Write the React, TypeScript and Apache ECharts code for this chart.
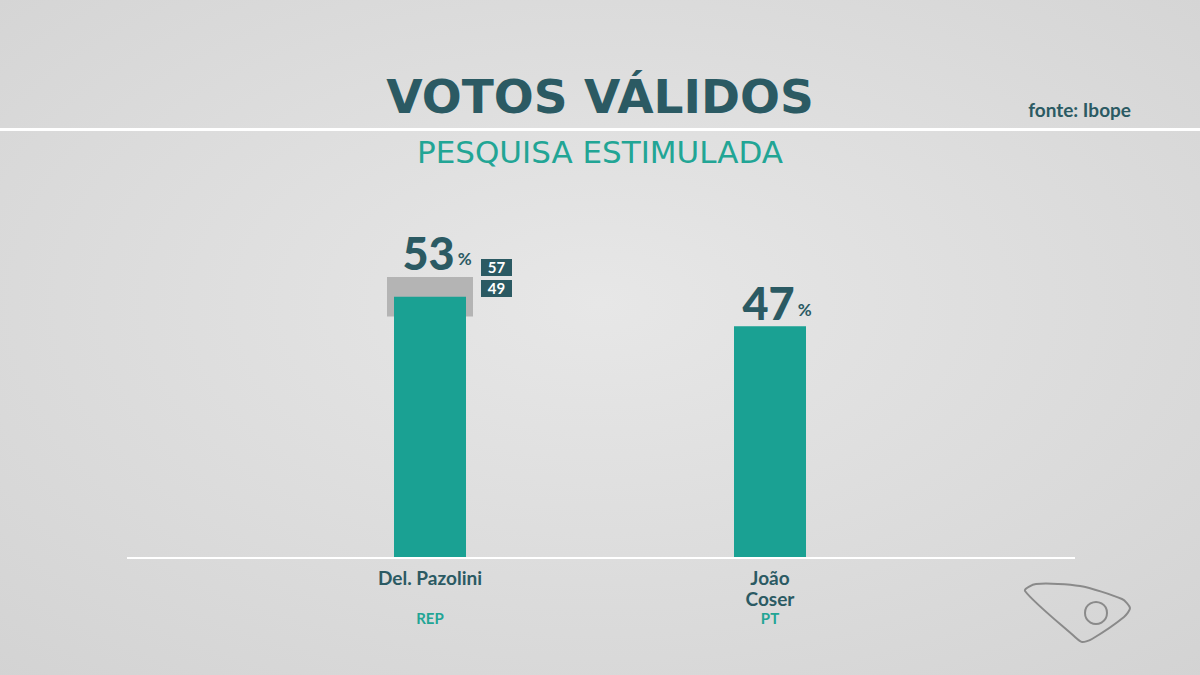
import React, { useEffect, useRef } from "react";
import * as echarts from "echarts";

const candidates = ["Del. Pazolini", "João\nCoser"];
const parties = ["REP", "PT"];
const votes = [53, 47];
const marginLow = [49];
const marginHigh = [57];

const DARK = "#2b5a63";
const TEAL = "#1aa193";
const TEAL_TXT = "#22a595";

export default function App() {
  const ref = useRef<HTMLDivElement>(null);
  useEffect(() => {
    document.body.style.margin = "0";
    const chart = echarts.init(ref.current!, null, { renderer: "svg" });
    const bandData = marginLow.map((lo, i) => [i, lo, marginHigh[i]]);
    chart.setOption({
      animation: false,
      backgroundColor: {
        type: "radial",
        x: 0.5,
        y: 0.45,
        r: 0.75,
        colorStops: [
          { offset: 0, color: "#e7e7e7" },
          { offset: 1, color: "#d3d3d3" },
        ],
      },
      title: [
        {
          text: "VOTOS VÁLIDOS",
          left: "center",
          top: 68,
          textStyle: { fontFamily: "DejaVu Sans", fontWeight: 700, fontSize: 47, color: DARK },
        },
        {
          text: "PESQUISA ESTIMULADA",
          left: "center",
          top: 131,
          textStyle: { fontFamily: "DejaVu Sans", fontWeight: 400, fontSize: 31, color: TEAL_TXT },
        },
        {
          text: "fonte: Ibope",
          right: 64,
          top: 95,
          textStyle: { fontFamily: "Lato", fontWeight: 700, fontSize: 19, color: DARK },
        },
      ],
      graphic: [
        { type: "rect", shape: { x: 0, y: 128, width: 1200, height: 3 }, style: { fill: "#ffffff" }, z: 0 },
        { type: "line", shape: { x1: 127, y1: 558, x2: 1075, y2: 558 }, style: { stroke: "#ffffff", lineWidth: 2 }, z: 10 },
        {
          type: "polygon",
          shape: {
            points: [
              [1025, 591], [1036, 584], [1080, 586], [1122, 599], [1130, 608], [1124, 617],
              [1092, 639], [1082, 642], [1075, 637],
            ],
            smooth: 0.25,
          },
          style: { fill: "none", stroke: "#8a8a8a", lineWidth: 2 },
        },
        {
          type: "circle",
          shape: { cx: 1096, cy: 613, r: 11 },
          style: { fill: "none", stroke: "#8a8a8a", lineWidth: 2 },
        },
      ],
      grid: { left: 260, right: 260, top: 65, bottom: 117 },
      xAxis: {
        type: "category",
        data: candidates,
        axisLine: { show: false },
        axisTick: { show: false },
        axisLabel: {
          margin: 9,
          interval: 0,
          formatter: (value: string, idx: number) => {
            const lines = value.split("\n");
            while (lines.length < 2) lines.push(" ");
            return lines.map((l) => `{n|${l}}`).join("\n") + `\n{p|${parties[idx]}}`;
          },
          rich: {
            n: { fontFamily: "Lato", fontWeight: 700, fontSize: 19, color: DARK, lineHeight: 21 },
            p: { fontFamily: "Lato", fontWeight: 700, fontSize: 15, color: TEAL_TXT, lineHeight: 17 },
          },
        },
      },
      yAxis: { type: "value", min: 0, max: 100, show: false, splitLine: { show: false } },
      series: [
        {
          type: "custom",
          z: 1,
          data: bandData,
          encode: { x: 0, y: [1, 2] },
          renderItem: (params: any, api: any) => {
            const lo = api.value(1);
            const hi = api.value(2);
            const pLo = api.coord([api.value(0), lo]);
            const pHi = api.coord([api.value(0), hi]);
            const cx = pLo[0];
            const bx = cx + 51;
            return {
              type: "group",
              children: [
                {
                  type: "rect",
                  shape: { x: cx - 43, y: pHi[1], width: 86, height: pLo[1] - pHi[1] },
                  style: { fill: "#b4b4b4" },
                },
                { type: "rect", shape: { x: bx, y: pHi[1] - 18, width: 31, height: 17 }, style: { fill: DARK } },
                {
                  type: "text",
                  style: {
                    text: String(hi), x: bx + 15.5, y: pHi[1] - 9.5, align: "center", verticalAlign: "middle",
                    fill: "#ffffff", font: "700 15px Lato",
                  },
                },
                { type: "rect", shape: { x: bx, y: pHi[1] + 3, width: 31, height: 17 }, style: { fill: DARK } },
                {
                  type: "text",
                  style: {
                    text: String(lo), x: bx + 15.5, y: pHi[1] + 11.5, align: "center", verticalAlign: "middle",
                    fill: "#ffffff", font: "700 15px Lato",
                  },
                },
              ],
            };
          },
        },
        {
          type: "bar",
          z: 2,
          barWidth: 72,
          data: votes.map((v, i) => ({
            value: v,
            label: { distance: i < marginHigh.length ? 24 : 3 },
          })),
          itemStyle: { color: TEAL },
          label: {
            show: true,
            position: "top",
            offset: [7, 0],
            formatter: (p: any) => `{v|${p.value}}{p|%}`,
            rich: {
              v: { fontFamily: "Lato", fontWeight: 900, fontSize: 45, color: DARK, lineHeight: 40 },
              p: { fontFamily: "Lato", fontWeight: 700, fontSize: 17, color: DARK, padding: [12, 0, 0, 3] },
            },
          },
        },
      ],
    });
    return () => chart.dispose();
  }, []);
  return <div ref={ref} style={{ position: "absolute", left: 0, top: 0, width: 1200, height: 675 }} />;
}
